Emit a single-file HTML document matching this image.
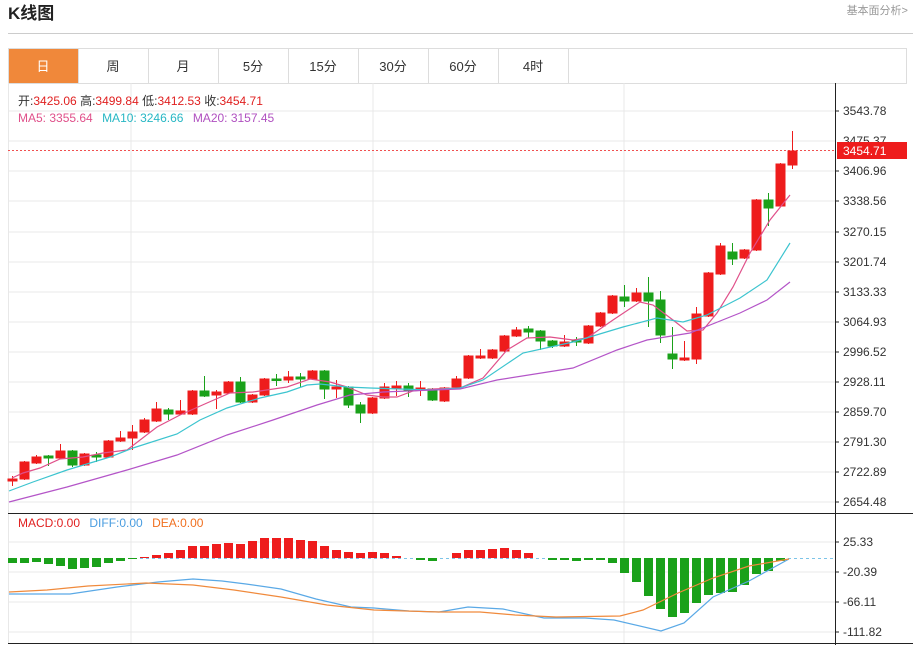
<!DOCTYPE html>
<html><head><meta charset="utf-8"><style>
body{margin:0;background:#fff;width:913px;height:645px;overflow:hidden;font-family:"Liberation Sans","Noto Sans CJK SC",sans-serif}
svg{position:absolute;left:0;top:0}
</style></head><body>
<svg width="913" height="645" xmlns="http://www.w3.org/2000/svg" font-family="Liberation Sans, Noto Sans CJK SC, sans-serif">
<text x="8" y="19" font-size="17" font-weight="bold" fill="#222">K线图</text>
<text x="908" y="14" font-size="11" fill="#999" text-anchor="end">基本面分析&gt;</text>
<line x1="8" y1="33.5" x2="913" y2="33.5" stroke="#ccc"/>
<!-- tabs -->
<rect x="8.5" y="48.5" width="898" height="35" fill="none" stroke="#ddd"/>
<rect x="9" y="49" width="69" height="34" fill="#f0883a"/>
<g stroke="#ddd"><line x1="78.5" y1="48" x2="78.5" y2="83"/><line x1="148.5" y1="48" x2="148.5" y2="83"/><line x1="218.5" y1="48" x2="218.5" y2="83"/><line x1="288.5" y1="48" x2="288.5" y2="83"/><line x1="358.5" y1="48" x2="358.5" y2="83"/><line x1="428.5" y1="48" x2="428.5" y2="83"/><line x1="498.5" y1="48" x2="498.5" y2="83"/><line x1="568.5" y1="48" x2="568.5" y2="83"/></g>
<g font-size="13" text-anchor="middle" fill="#333"><text x="43" y="71" fill="#fff">日</text><text x="113" y="71">周</text><text x="183" y="71">月</text><text x="253" y="71">5分</text><text x="323" y="71">15分</text><text x="393" y="71">30分</text><text x="463" y="71">60分</text><text x="533" y="71">4时</text></g>
<!-- grid -->
<g stroke="#e8e8e8"><line x1="8" y1="111" x2="835" y2="111"/><line x1="8" y1="141" x2="835" y2="141"/><line x1="8" y1="171" x2="835" y2="171"/><line x1="8" y1="201" x2="835" y2="201"/><line x1="8" y1="232" x2="835" y2="232"/><line x1="8" y1="262" x2="835" y2="262"/><line x1="8" y1="292" x2="835" y2="292"/><line x1="8" y1="322" x2="835" y2="322"/><line x1="8" y1="352" x2="835" y2="352"/><line x1="8" y1="382" x2="835" y2="382"/><line x1="8" y1="412" x2="835" y2="412"/><line x1="8" y1="442" x2="835" y2="442"/><line x1="8" y1="472" x2="835" y2="472"/><line x1="8" y1="502" x2="835" y2="502"/>
<line x1="8" y1="542" x2="835" y2="542"/><line x1="8" y1="572" x2="835" y2="572"/><line x1="8" y1="602" x2="835" y2="602"/><line x1="8" y1="632" x2="835" y2="632"/>
<line x1="131" y1="83" x2="131" y2="643"/><line x1="373" y1="83" x2="373" y2="643"/><line x1="624" y1="83" x2="624" y2="643"/><line x1="8.5" y1="83" x2="8.5" y2="643"/></g>
<line x1="8" y1="513.5" x2="913" y2="513.5" stroke="#222"/>
<line x1="8" y1="643.5" x2="913" y2="643.5" stroke="#222"/>
<line x1="835.5" y1="83" x2="835.5" y2="645" stroke="#222"/>
<g stroke="#222"><line x1="835" y1="111" x2="839" y2="111"/><line x1="835" y1="171" x2="839" y2="171"/><line x1="835" y1="201" x2="839" y2="201"/><line x1="835" y1="232" x2="839" y2="232"/><line x1="835" y1="262" x2="839" y2="262"/><line x1="835" y1="292" x2="839" y2="292"/><line x1="835" y1="322" x2="839" y2="322"/><line x1="835" y1="352" x2="839" y2="352"/><line x1="835" y1="382" x2="839" y2="382"/><line x1="835" y1="412" x2="839" y2="412"/><line x1="835" y1="442" x2="839" y2="442"/><line x1="835" y1="472" x2="839" y2="472"/><line x1="835" y1="502" x2="839" y2="502"/><line x1="835" y1="542" x2="839" y2="542"/><line x1="835" y1="572" x2="839" y2="572"/><line x1="835" y1="602" x2="839" y2="602"/><line x1="835" y1="632" x2="839" y2="632"/></g>
<g font-size="12" fill="#333"><text x="843" y="115">3543.78</text><text x="843" y="145">3475.37</text><text x="843" y="175">3406.96</text><text x="843" y="205">3338.56</text><text x="843" y="236">3270.15</text><text x="843" y="266">3201.74</text><text x="843" y="296">3133.33</text><text x="843" y="326">3064.93</text><text x="843" y="356">2996.52</text><text x="843" y="386">2928.11</text><text x="843" y="416">2859.70</text><text x="843" y="446">2791.30</text><text x="843" y="476">2722.89</text><text x="843" y="506">2654.48</text>
<text x="843" y="546">25.33</text><text x="843" y="576">-20.39</text><text x="843" y="606">-66.11</text><text x="843" y="636">-111.82</text></g>
<line x1="8" y1="150.5" x2="835" y2="150.5" stroke="#f05050" stroke-dasharray="2,2"/>
<rect x="837" y="142" width="70" height="17" fill="#ee1c1c"/>
<text x="843" y="155" font-size="12" fill="#fff">3454.71</text>
<!-- legend -->
<g font-size="12"><text x="18" y="105" fill="#333">开:<tspan fill="#e02020">3425.06</tspan> 高:<tspan fill="#e02020">3499.84</tspan> 低:<tspan fill="#e02020">3412.53</tspan> 收:<tspan fill="#e02020">3454.71</tspan></text>
<text x="18" y="122"><tspan fill="#e0508a">MA5: 3355.64</tspan>  <tspan fill="#27b7c4" dx="6">MA10: 3246.66</tspan>  <tspan fill="#b050c0" dx="6">MA20: 3157.45</tspan></text>
<text x="18" y="527"><tspan fill="#e02020">MACD:0.00</tspan> <tspan fill="#4a9de0" dx="6">DIFF:0.00</tspan> <tspan fill="#f07020" dx="6">DEA:0.00</tspan></text></g>
<!-- candles -->
<g id="c"></g>
<g stroke-width="1">
<!-- red -->
<g fill="#ee1c1c" stroke="#ee1c1c">
<path d="M12.5 476V486M24.5 461V480M36.5 455V464M60.5 444V459M84.5 453V466M108.5 440V458M120.5 431V442M132.5 425V450M144.5 418V433M156.5 402V422M180.5 400V415M192.5 390V415M216.5 390V409M228.5 381V394M252.5 394V403M264.5 378V396M288.5 371V383M312.5 370V380M336.5 380V398M372.5 397V414M384.5 383V399M396.5 381V396M420.5 381V396M444.5 387V402M456.5 376V388M468.5 355V379M480.5 349V359M492.5 349V359M504.5 335V352M516.5 327V337M564.5 335V347M588.5 325V344M600.5 312V327M612.5 295V314M636.5 288V302M684.5 341V361M696.5 307V364M708.5 272V317M720.5 243V275M744.5 249V259M756.5 199V251M780.5 163V207M792.5 131V169"/>
<rect x="8" y="479" width="9" height="2"/><rect x="20" y="462" width="9" height="17"/><rect x="32" y="457" width="9" height="6"/><rect x="56" y="451" width="9" height="7"/><rect x="80" y="454" width="9" height="11"/><rect x="104" y="441" width="9" height="16"/><rect x="116" y="438" width="9" height="3"/><rect x="128" y="432" width="9" height="6"/><rect x="140" y="420" width="9" height="12"/><rect x="152" y="409" width="9" height="12"/><rect x="176" y="411" width="9" height="3"/><rect x="188" y="391" width="9" height="23"/><rect x="212" y="392" width="9" height="3"/><rect x="224" y="382" width="9" height="11"/><rect x="248" y="395" width="9" height="7"/><rect x="260" y="379" width="9" height="16"/><rect x="284" y="377" width="9" height="3"/><rect x="308" y="371" width="9" height="8"/><rect x="332" y="387" width="9" height="2"/><rect x="368" y="398" width="9" height="15"/><rect x="380" y="387" width="9" height="11"/><rect x="392" y="386" width="9" height="2"/><rect x="416" y="388" width="9" height="2"/><rect x="440" y="388" width="9" height="13"/><rect x="452" y="379" width="9" height="8"/><rect x="464" y="356" width="9" height="22"/><rect x="476" y="356" width="9" height="2"/><rect x="488" y="350" width="9" height="8"/><rect x="500" y="336" width="9" height="15"/><rect x="512" y="330" width="9" height="6"/><rect x="560" y="342" width="9" height="4"/><rect x="584" y="326" width="9" height="17"/><rect x="596" y="313" width="9" height="13"/><rect x="608" y="296" width="9" height="17"/><rect x="632" y="293" width="9" height="8"/><rect x="680" y="358" width="9" height="2"/><rect x="692" y="314" width="9" height="45"/><rect x="704" y="273" width="9" height="43"/><rect x="716" y="246" width="9" height="28"/><rect x="740" y="250" width="9" height="8"/><rect x="752" y="200" width="9" height="50"/><rect x="776" y="164" width="9" height="42"/><rect x="788" y="151" width="9" height="14"/>
</g>
<g fill="#1aa11a" stroke="#1aa11a">
<path d="M48.5 455V466M72.5 450V467M96.5 452V462M168.5 408V420M204.5 376V397M240.5 377V403M276.5 374V386M300.5 373V387M324.5 370V399M348.5 386V408M360.5 402V423M408.5 383V397M432.5 388V401M528.5 326V338M540.5 330V350M552.5 340V348M576.5 337V346M624.5 285V307M648.5 277V327M660.5 291V343M672.5 327V369M732.5 243V265M768.5 193V226"/>
<rect x="44" y="456" width="9" height="2"/><rect x="68" y="451" width="9" height="14"/><rect x="92" y="455" width="9" height="2"/><rect x="164" y="410" width="9" height="4"/><rect x="200" y="391" width="9" height="5"/><rect x="236" y="382" width="9" height="20"/><rect x="272" y="379" width="9" height="1.5"/><rect x="296" y="377" width="9" height="2"/><rect x="320" y="371" width="9" height="18"/><rect x="344" y="387" width="9" height="18"/><rect x="356" y="405" width="9" height="8"/><rect x="404" y="386" width="9" height="4"/><rect x="428" y="389" width="9" height="11"/><rect x="524" y="329" width="9" height="3"/><rect x="536" y="331" width="9" height="10"/><rect x="548" y="341" width="9" height="5"/><rect x="572" y="340" width="9" height="2"/><rect x="620" y="297" width="9" height="4"/><rect x="644" y="293" width="9" height="8"/><rect x="656" y="300" width="9" height="35"/><rect x="668" y="354" width="9" height="5"/><rect x="728" y="252" width="9" height="7"/><rect x="764" y="200" width="9" height="8"/>
</g>
</g>
<!-- MAs -->
<g fill="none" stroke-width="1.2">
<polyline stroke="#e0508a" points="12,478 23,473 40,468 60,459 83,457 103,453 127,450 157,427 180,415 207,403 230,393 253,392 287,387 310,379 330,382 347,387 367,395 383,397 397,397 413,391 433,389 460,388 483,378 507,350 527,338 550,337 573,340 587,338 613,320 640,302 653,305 673,320 687,331 703,330 717,313 733,287 750,253 770,220 790,195"/>
<polyline stroke="#3cc4cf" points="9,491 33,482 67,470 110,457 133,448 177,434 200,420 227,408 260,398 287,392 307,385 320,384 347,387 370,388 400,389 433,390 460,388 483,380 523,353 573,342 623,327 657,318 683,322 707,315 740,298 767,280 790,243"/>
<polyline stroke="#b455c8" points="9,502 67,487 127,470 177,455 227,435 273,420 317,405 350,395 383,392 433,390 460,389 497,380 573,368 617,350 647,340 690,333 740,313 767,300 790,282"/>
</g>
<!-- MACD -->
<line x1="8" y1="558.5" x2="835" y2="558.5" stroke="#7cc4e8" stroke-dasharray="3,3"/>
<g fill="#1aa11a">
<rect x="8" y="558" width="9" height="5"/><rect x="20" y="558" width="9" height="5"/><rect x="32" y="558" width="9" height="4"/><rect x="44" y="558" width="9" height="6"/><rect x="56" y="558" width="9" height="8"/><rect x="68" y="558" width="9" height="11"/><rect x="80" y="558" width="9" height="10"/><rect x="92" y="558" width="9" height="9"/><rect x="104" y="558" width="9" height="5"/><rect x="116" y="558" width="9" height="3"/><rect x="128" y="558" width="9" height="1"/>
<rect x="416" y="558" width="9" height="2"/><rect x="428" y="558" width="9" height="3"/><rect x="548" y="558" width="9" height="2"/><rect x="560" y="558" width="9" height="2"/><rect x="572" y="558" width="9" height="3"/><rect x="584" y="558" width="9" height="2"/><rect x="596" y="558" width="9" height="2"/><rect x="608" y="558" width="9" height="5"/>
<rect x="620" y="558" width="9" height="15"/><rect x="632" y="558" width="9" height="24"/><rect x="644" y="558" width="9" height="38"/><rect x="656" y="558" width="9" height="51"/><rect x="668" y="558" width="9" height="59"/><rect x="680" y="558" width="9" height="55"/><rect x="692" y="558" width="9" height="45"/><rect x="704" y="558" width="9" height="37"/><rect x="716" y="558" width="9" height="35"/><rect x="728" y="558" width="9" height="34"/><rect x="740" y="558" width="9" height="27"/><rect x="752" y="558" width="9" height="16"/><rect x="764" y="558" width="9" height="13"/><rect x="776" y="558" width="9" height="3"/>
</g>
<g fill="#ee1c1c">
<rect x="140" y="557" width="9" height="1"/><rect x="152" y="555" width="9" height="3"/><rect x="164" y="553" width="9" height="5"/><rect x="176" y="550" width="9" height="8"/><rect x="188" y="546" width="9" height="12"/><rect x="200" y="546" width="9" height="12"/><rect x="212" y="544" width="9" height="14"/><rect x="224" y="543" width="9" height="15"/><rect x="236" y="544" width="9" height="14"/><rect x="248" y="541" width="9" height="17"/><rect x="260" y="538" width="9" height="20"/><rect x="272" y="538" width="9" height="20"/><rect x="284" y="538" width="9" height="20"/><rect x="296" y="540" width="9" height="18"/><rect x="308" y="541" width="9" height="17"/><rect x="320" y="546" width="9" height="12"/><rect x="332" y="550" width="9" height="8"/><rect x="344" y="552" width="9" height="6"/><rect x="356" y="553" width="9" height="5"/><rect x="368" y="552" width="9" height="6"/><rect x="380" y="553" width="9" height="5"/><rect x="392" y="556" width="9" height="2"/>
<rect x="452" y="553" width="9" height="5"/><rect x="464" y="550" width="9" height="8"/><rect x="476" y="550" width="9" height="8"/><rect x="488" y="549" width="9" height="9"/><rect x="500" y="548" width="9" height="10"/><rect x="512" y="550" width="9" height="8"/><rect x="524" y="553" width="9" height="5"/>
</g>
<g fill="none" stroke-width="1.2">
<polyline stroke="#5aa9e6" points="9,594 70,594 117,587 158,582 193,579 222,581 246,584 281,589 316,599 351,607 374,608 409,611 439,612 468,607 503,609 544,618 585,618 614,620 661,631 684,623 713,597 749,581 789,559"/>
<polyline stroke="#f08a3c" points="9,592 47,590 88,586 146,583 193,585 234,590 281,597 327,605 374,610 439,612 480,612 515,615 556,617 620,616 643,610 678,593 713,578 749,566 789,559"/>
</g>
</svg>
</body></html>
